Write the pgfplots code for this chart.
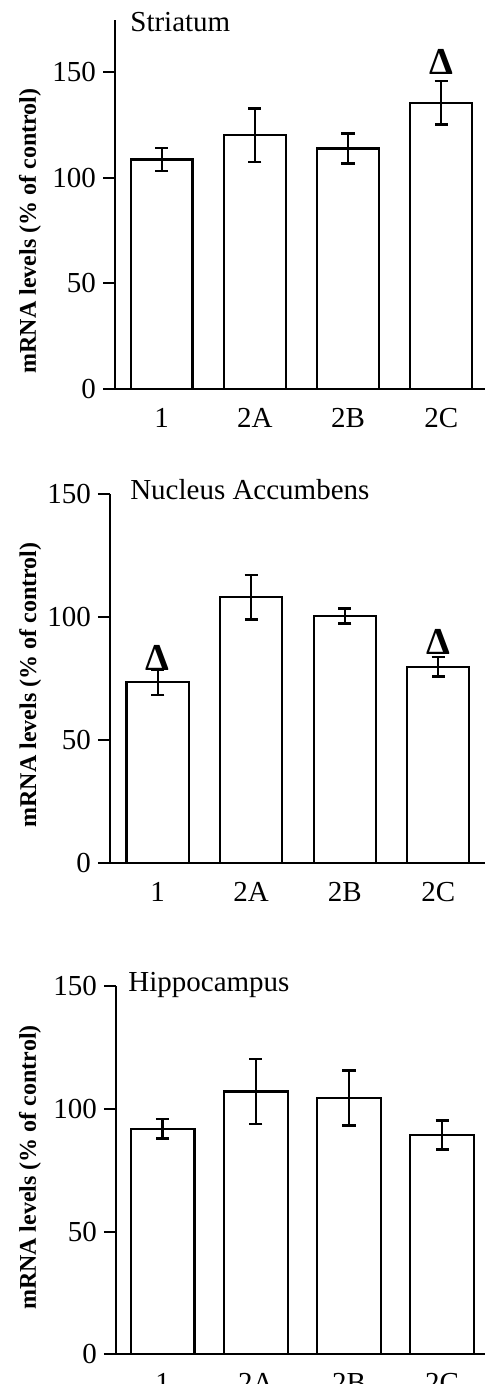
\documentclass[border=0pt]{standalone}
\usepackage{fontspec}
\setmainfont{Liberation Serif}
\usepackage{pgfplots}
\pgfplotsset{compat=1.18}
\pgfplotsset{panel/.style={
  scale only axis, ymin=0,
  axis x line=bottom, axis y line=left,
  axis line style={-, line width=1pt},
  xtick={0,1,2,3}, xticklabels={1,2A,2B,2C},
  x tick style={draw=none},
  ytick={0,50,100,150},
  tick align=outside, major tick length=6pt,
  y tick style={line width=1pt, black},
  tick label style={font=\fontsize{14.5}{16}\selectfont},
  /pgf/number format/assume math mode=true,
  ylabel={mRNA levels (\% of control)},
  ylabel style={font=\bfseries\fontsize{12}{14}\selectfont, anchor=center},
  clip=false,
},
barplot/.style={ybar, bar width=#1, draw=black, fill=white, line width=1.1pt,
  error bars/y dir=both, error bars/y explicit,
  error bars/error bar style={line width=1.1pt, black},
  error bars/error mark options={line width=1.3pt, black, mark size=3.3pt, rotate=90}},
barplot/.default=0.665,
delta/.style={only marks, mark=none, nodes near coords={\bfseries Δ},
  every node near coord/.append style={anchor=center, inner sep=0pt, font=\fontsize{19}{20}\selectfont}}
}
\begin{document}
\begin{tikzpicture}
\path[use as bounding box] (0,0) rectangle (242.5pt,692pt);
% Striatum
\begin{axis}[panel, at={(57.5pt,497.5pt)}, anchor=south west,
  width=185pt, height=184.5pt, xmin=-0.5, xmax=3.47, ymax=174.5,
  ylabel style={at={(axis description cs:-0.23,0.428)}}]
\addplot[barplot] coordinates {(0,108.5) +- (0,5.5) (1,120) +- (0,12.7) (2,113.7) +- (0,7) (3,135.4) +- (0,10.2)};
\addplot[delta] coordinates {(3,154.5)};
\node[anchor=base west, inner sep=0pt, font=\fontsize{14.5}{16}\selectfont] at (axis description cs:0.0405,0.968) {Striatum};
\end{axis}
% Nucleus Accumbens
\begin{axis}[panel, at={(55pt,260.35pt)}, anchor=south west,
  width=187.5pt, height=184.5pt, xmin=-0.51, xmax=3.5, ymax=150,
  ylabel style={at={(axis description cs:-0.213,0.483)}}]
\addplot[barplot] coordinates {(0,73.6) +- (0,5.2) (1,108.1) +- (0,9.1) (2,100.5) +- (0,3.1) (3,79.9) +- (0,3.9)};
\addplot[delta] coordinates {(0,83.3) (3,90.1)};
\node[anchor=base west, inner sep=0pt, font=\fontsize{14.5}{16}\selectfont] at (axis description cs:0.053,0.985) {Nucleus Accumbens};
\end{axis}
% Hippocampus
\begin{axis}[panel, at={(58pt,14.85pt)}, anchor=south west,
  width=184.5pt, height=184.15pt, xmin=-0.5, xmax=3.46, ymax=150,
  ylabel style={at={(axis description cs:-0.233,0.507)}}]
\addplot[barplot=0.686] coordinates {(0,91.9) +- (0,4) (1,107) +- (0,13.2) (2,104.5) +- (0,11.2) (3,89.2) +- (0,5.9)};
\node[anchor=base west, inner sep=0pt, font=\fontsize{14.5}{16}\selectfont] at (axis description cs:0.0325,0.985) {Hippocampus};
\end{axis}
\end{tikzpicture}
\end{document}
